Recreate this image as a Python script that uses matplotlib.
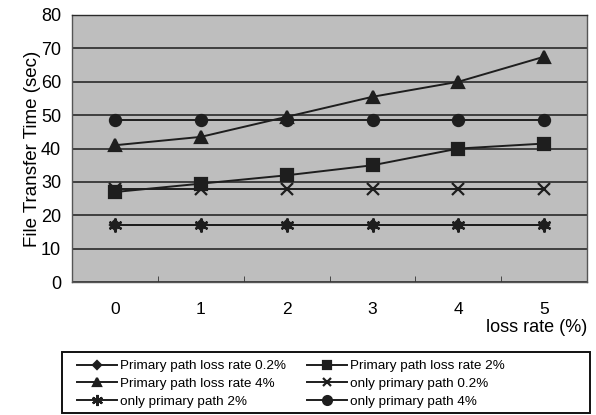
import numpy as np
import matplotlib.pyplot as plt
from matplotlib.ticker import FixedLocator
from matplotlib.patches import Rectangle

# данные
loss_rate = [0, 1, 2, 3, 4, 5]
primary_02 = [17, 17, 17, 17, 17, 17]
primary_2 = [27, 29.5, 32, 35, 40, 41.5]
primary_4 = [41, 43.5, 49.5, 55.5, 60, 67.5]
only_02 = [28, 28, 28, 28, 28, 28]
only_2 = [17, 17, 17, 17, 17, 17]
only_4 = [48.5, 48.5, 48.5, 48.5, 48.5, 48.5]

series = [
    (primary_02, 'D', 5, 'Primary path loss rate 0.2%'),
    (primary_2, 's', 8, 'Primary path loss rate 2%'),
    (primary_4, '^', 8, 'Primary path loss rate 4%'),
    (only_02, 'x', 8, 'only primary path 0.2%'),
    (only_2, (6, 2, 0), 10, 'only primary path 2%'),
    (only_4, 'o', 8, 'only primary path 4%'),
]

plt.rcParams['font.family'] = ['Liberation Sans', 'DejaVu Sans']

fig = plt.figure(figsize=(5.96, 4.15), dpi=100)
ax = fig.add_axes([0.121, 0.320, 0.864, 0.644])
ax.set_facecolor('#bebebe')

x = np.arange(len(loss_rate))
lines = []
for vals, m, ms, lab in series:
    ln, = ax.plot(x, vals, color='#1e1e1e', lw=1.4, marker=m, ms=ms,
                  mew=1.6, mfc='#1e1e1e', mec='#1e1e1e', label=lab)
    lines.append(ln)

ax.set_xlim(-0.5, 5.5)
ax.set_ylim(0, 80)
ax.set_yticks(range(0, 81, 10))
ax.yaxis.grid(True, color='#2a2a2a', lw=1.2)
ax.set_axisbelow(True)
ax.tick_params(axis='y', length=0, labelsize=13, pad=8)

ax.set_xticks(x)
ax.set_xticklabels([str(v) for v in loss_rate])
ax.tick_params(axis='x', length=0, labelsize=12.5, pad=14)
ax.xaxis.set_minor_locator(FixedLocator(np.arange(0.5, 5.0, 1)))
ax.tick_params(axis='x', which='minor', direction='in', length=4, color='#333333')

for s in ax.spines.values():
    s.set_color('#555555')
    s.set_linewidth(1.0)
ax.spines['top'].set_color('#2a2a2a')

ax.set_ylabel('File Transfer Time (sec)', fontsize=13.5, labelpad=0)
fig.text(0.985, 0.212, 'loss rate (%)', fontsize=13, ha='right', va='center')

# рамка легенды
fig.patches.append(Rectangle((62 / 596, 2 / 415), 528 / 596, 61 / 415,
                             transform=fig.transFigure, fill=False,
                             edgecolor='#111111', lw=1.4))

# порядок как в оригинале (по строкам)
order = [0, 2, 4, 1, 3, 5]
leg = fig.legend([lines[i] for i in order], [lines[i].get_label() for i in order],
                 loc='upper left', bbox_to_anchor=(77 / 596, 1 - 360 / 415),
                 ncol=2, frameon=False, fontsize=9.7, handlelength=3.0,
                 handletextpad=0.2, labelspacing=0.38, columnspacing=1.55,
                 borderpad=0, borderaxespad=0, markerscale=0.8)

plt.savefig('out.png', dpi=100)
